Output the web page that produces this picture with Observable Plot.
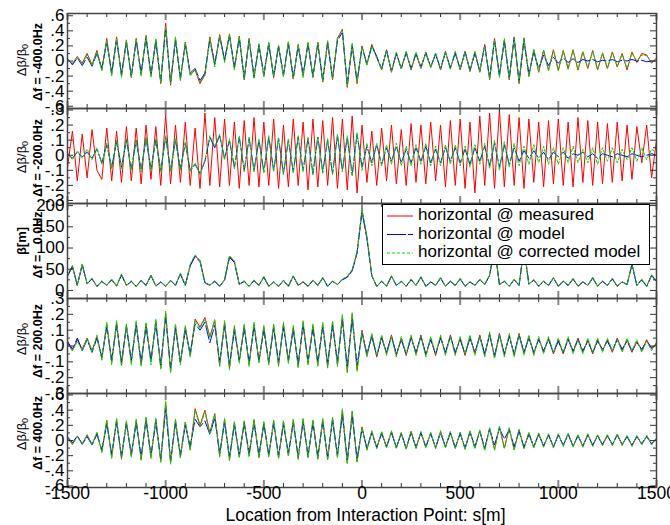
<!DOCTYPE html>
<html>
<head>
<meta charset="utf-8">
<script src="https://cdn.jsdelivr.net/npm/d3@7"></script>
<script src="https://cdn.jsdelivr.net/npm/@observablehq/plot@0.6"></script>
<style>
  body { margin: 0; background: #fff; font-family: "Liberation Sans", Arial, sans-serif; }
  #chart { position: relative; width: 670px; height: 525px; overflow: hidden; }
  #chart > svg { display: block; overflow: visible; }
  #legend { position: absolute; left: 382px; top: 204px; }
</style>
</head>
<body>
<div id="chart"></div>
<script>
// ---------- sample positions (m from IP) ----------
const positions = [
-1500,-1475,-1450,-1425,-1400,-1375,-1350,-1325,-1300,-1275,
-1250,-1225,-1200,-1175,-1150,-1125,-1100,-1075,-1050,-1025,
-1000,-975,-950,-925,-900,-875,-850,-825,-800,-775,
-750,-725,-700,-675,-650,-625,-600,-575,-550,-525,
-500,-475,-450,-425,-400,-375,-350,-325,-300,-275,
-250,-225,-200,-175,-150,-125,-100,-75,-50,-25,
0,25,50,75,100,125,150,175,200,225,
250,275,300,325,350,375,400,425,450,475,
500,525,550,575,600,625,650,675,700,725,
750,775,800,825,850,875,900,925,950,975,
1000,1025,1050,1075,1100,1125,1150,1175,1200,1225,
1250,1275,1300,1325,1350,1375,1400,1425,1450,1475,
1500];

const seriesNames = ["horizontal @ measured", "horizontal @ model", "horizontal @ corrected model"];
const panelLabels = ["Δf = -400.0Hz", "Δf = -200.0Hz", "Δf =   0.0Hz", "Δf = 200.0Hz", "Δf = 400.0Hz"];
const xTickValues = [-1500,-1000,-500,0,500,1000,1500];
const xTickLabels = ["-1500","-1000","-500","0","500","1000","1500"];
const xMinorTicks = [-1400,-1300,-1200,-1100,-900,-800,-700,-600,-400,-300,-200,-100,100,200,300,400,600,700,800,900,1100,1200,1300,1400];
const yTicksWide = [-0.6,-0.4,-0.2,0,0.2,0.4,0.6];
const yMinorWide = [-0.5,-0.3,-0.1,0.1,0.3,0.5];
const yTicksNarrow = [-0.3,-0.2,-0.1,0,0.1,0.2,0.3];
const yMinorNarrow = [-0.25,-0.15,-0.05,0.05,0.15,0.25];
const yTicksBeta = [0,50,100,150,200];
const yMinorBeta = [25,75,125,175];

// ---------- panel 1 : Δf = -400 Hz ----------
const p1Measured = [
0.02,-0.04,0.06,-0.03,0.1,-0.05,0.14,-0.12,0.3,-0.18,
0.32,-0.2,0.28,-0.22,0.3,-0.18,0.34,-0.2,0.28,-0.3,
0.5,-0.32,0.3,-0.25,0.25,-0.18,-0.12,-0.3,-0.18,0.32,
-0.05,0.35,0.0,0.36,-0.1,0.33,-0.25,0.3,-0.22,0.22,
-0.2,0.24,-0.22,0.2,-0.2,0.25,-0.24,0.22,-0.2,0.24,
-0.22,0.25,-0.28,0.26,-0.25,0.3,0.42,-0.35,0.22,-0.3,
0.2,-0.05,0.22,0.05,-0.12,0.15,-0.15,0.1,-0.1,0.12,
-0.12,0.1,-0.1,0.12,-0.08,0.1,-0.12,0.13,-0.1,0.12,
-0.12,0.13,-0.14,0.12,-0.15,0.22,-0.25,0.3,-0.2,0.28,
-0.25,0.32,-0.3,0.3,-0.2,0.15,-0.15,0.14,-0.12,0.15,
-0.12,0.14,-0.1,0.15,-0.12,0.12,-0.1,0.14,-0.12,0.1,
-0.1,0.12,-0.08,0.1,-0.12,0.12,-0.02,0.1,0.08,-0.03,
0.04];
const p1Model = [
0.03,-0.05,0.04,-0.06,0.05,-0.07,0.1,-0.1,0.25,-0.16,
0.28,-0.18,0.25,-0.2,0.27,-0.16,0.3,-0.18,0.26,-0.27,
0.42,-0.28,0.28,-0.22,0.22,-0.16,-0.1,-0.26,-0.16,0.28,
-0.04,0.32,0.02,0.33,-0.08,0.3,-0.22,0.27,-0.2,0.2,
-0.18,0.22,-0.2,0.19,-0.18,0.23,-0.22,0.2,-0.18,0.22,
-0.2,0.22,-0.25,0.24,-0.22,0.27,0.38,-0.3,0.2,-0.26,
0.18,-0.04,0.2,0.06,-0.1,0.14,-0.13,0.1,-0.1,0.11,
-0.1,0.1,-0.08,0.1,-0.08,0.09,-0.1,0.11,-0.09,0.1,
-0.1,0.12,-0.12,0.1,-0.13,0.2,-0.22,0.27,-0.18,0.26,
-0.22,0.3,-0.27,0.27,-0.17,0.12,-0.1,0.08,-0.06,0.05,
-0.03,0.04,-0.02,0.03,-0.02,0.02,0.0,0.02,-0.01,0.01,
0.0,0.02,-0.01,0.01,0.0,0.02,0.0,0.01,-0.01,0.0,
0.0];
const p1Corrected = [
0.01,-0.03,0.05,-0.04,0.08,-0.06,0.12,-0.13,0.28,-0.2,
0.3,-0.22,0.27,-0.21,0.29,-0.2,0.33,-0.22,0.3,-0.28,
0.46,-0.3,0.32,-0.26,0.24,-0.2,-0.1,-0.28,-0.2,0.3,
-0.08,0.34,-0.02,0.35,-0.12,0.32,-0.24,0.29,-0.23,0.23,
-0.21,0.25,-0.2,0.21,-0.21,0.26,-0.23,0.21,-0.22,0.25,
-0.21,0.24,-0.27,0.27,-0.24,0.31,0.4,-0.33,0.24,-0.28,
0.19,-0.06,0.2,0.04,-0.11,0.14,-0.14,0.12,-0.11,0.13,
-0.11,0.12,-0.09,0.11,-0.09,0.11,-0.11,0.12,-0.11,0.13,
-0.11,0.12,-0.13,0.13,-0.14,0.2,-0.24,0.28,-0.22,0.3,
-0.24,0.3,-0.28,0.31,-0.21,0.16,-0.14,0.15,-0.13,0.14,
-0.13,0.13,-0.11,0.14,-0.11,0.13,-0.09,0.13,-0.11,0.11,
-0.09,0.11,-0.07,0.09,-0.1,0.1,0.0,0.08,0.07,-0.02,
0.03];

// ---------- panel 2 : Δf = -200 Hz ----------
const p2Measured = [
-0.08,0.16,-0.17,0.14,-0.15,0.17,-0.1,-0.16,0.18,-0.17,
0.16,-0.18,0.19,-0.17,0.18,-0.19,0.2,-0.16,0.19,-0.2,
0.27,-0.19,0.2,-0.18,0.22,-0.2,0.18,-0.22,0.28,-0.2,
0.25,-0.21,0.24,-0.2,0.22,-0.22,0.23,-0.2,0.25,-0.21,
0.22,-0.2,0.24,-0.22,0.2,-0.21,0.24,-0.2,0.22,-0.23,
0.24,-0.21,0.23,-0.2,0.25,-0.22,0.24,-0.23,0.26,-0.25,
0.2,-0.18,0.16,-0.2,0.18,-0.17,0.2,-0.19,0.17,-0.2,
0.21,-0.18,0.2,-0.19,0.22,-0.17,0.2,-0.21,0.23,-0.2,
0.24,-0.22,0.22,-0.25,0.26,-0.2,0.28,-0.22,0.3,-0.21,
0.27,-0.2,0.25,-0.22,0.24,-0.18,0.22,-0.21,0.23,-0.19,
0.24,-0.2,0.22,-0.21,0.25,-0.18,0.23,-0.2,0.22,-0.19,
0.21,-0.18,0.22,-0.17,0.2,-0.16,0.19,-0.05,0.2,-0.15,
0.1];
const p2Model = [
0.01,-0.02,0.02,-0.01,0.02,-0.02,0.04,-0.05,0.07,-0.08,
0.09,-0.08,0.1,-0.09,0.1,-0.1,0.11,-0.09,0.1,-0.1,
0.12,-0.1,0.1,-0.09,0.08,-0.1,-0.06,-0.12,-0.04,0.12,
0.05,0.13,-0.02,0.1,-0.08,0.12,-0.1,0.11,-0.1,0.1,
-0.11,0.12,-0.1,0.11,-0.12,0.1,-0.11,0.12,-0.1,0.11,
-0.12,0.12,-0.11,0.1,-0.12,0.13,-0.1,0.12,-0.13,0.14,
-0.08,0.06,-0.05,0.07,-0.06,0.05,-0.04,0.06,-0.05,0.04,
-0.05,0.05,-0.04,0.06,-0.05,0.04,-0.05,0.05,-0.04,0.05,
-0.05,0.04,-0.06,0.05,-0.04,0.06,-0.07,0.08,-0.08,0.07,
-0.06,0.05,-0.04,0.03,-0.02,0.03,-0.02,0.02,-0.03,0.02,
-0.01,0.02,-0.02,0.01,0.0,0.02,-0.01,0.01,-0.02,0.01,
0.0,-0.01,0.01,0.0,-0.01,0.01,0.0,-0.01,0.0,0.01,
0.0];
const p2Corrected = [
0.02,-0.03,0.03,-0.02,0.04,-0.03,0.05,-0.06,0.08,-0.09,
0.1,-0.09,0.11,-0.1,0.1,-0.11,0.12,-0.1,0.11,-0.11,
0.13,-0.11,0.11,-0.1,0.09,-0.11,-0.05,-0.13,-0.03,0.13,
0.06,0.14,-0.03,0.11,-0.09,0.13,-0.11,0.12,-0.11,0.11,
-0.12,0.13,-0.11,0.12,-0.13,0.11,-0.12,0.13,-0.11,0.12,
-0.13,0.12,-0.12,0.11,-0.13,0.14,-0.11,0.13,-0.14,0.15,
-0.1,0.08,-0.07,0.08,-0.07,0.07,-0.06,0.08,-0.07,0.06,
-0.07,0.07,-0.06,0.08,-0.07,0.06,-0.07,0.07,-0.06,0.07,
-0.07,0.06,-0.08,0.07,-0.06,0.08,-0.09,0.1,-0.1,0.09,
-0.08,0.08,-0.07,0.06,-0.06,0.07,-0.05,0.06,-0.06,0.05,
-0.06,0.05,-0.05,0.06,-0.05,0.04,-0.05,0.05,-0.06,0.05,
-0.04,0.05,-0.05,0.04,-0.03,0.05,-0.04,0.05,-0.03,0.04,
0.02];

// ---------- panel 3 : Δf = 0 Hz, β [m] ----------
const p3Measured = [
35,58,12,62,15,28,9,22,12,26,
10,38,12,22,9,24,12,36,10,20,
9,24,12,40,12,60,82,70,18,12,
22,10,25,80,68,14,22,10,24,12,
32,10,20,9,24,10,34,12,20,10,
24,12,30,10,22,14,26,32,48,90,
190,125,35,9,22,10,34,12,22,10,
26,12,32,10,20,12,30,10,22,12,
28,10,20,12,26,14,36,105,14,22,
10,26,12,102,15,25,10,22,12,30,
10,22,12,28,10,20,12,30,10,22,
12,28,10,20,14,62,12,26,10,36,
22];
const p3Model = [
33,56,12,60,16,27,10,21,12,25,
11,36,12,21,10,23,12,35,11,20,
10,23,12,38,12,58,80,68,18,13,
21,10,24,78,66,15,21,10,23,12,
31,10,20,10,23,10,33,12,20,10,
23,12,29,10,21,14,25,31,46,88,
186,122,34,10,21,10,33,12,21,10,
25,12,31,10,20,12,29,10,21,12,
27,10,20,12,25,14,35,102,14,21,
10,25,12,100,15,24,10,21,12,29,
10,21,12,27,10,20,12,29,10,21,
12,27,10,20,14,60,12,25,10,35,
21];
const p3Corrected = [
36,59,11,63,15,29,9,23,11,27,
10,39,11,23,9,25,11,37,10,21,
9,25,11,41,12,62,84,71,17,12,
23,9,26,82,70,14,23,9,25,11,
33,9,21,9,25,9,35,11,21,9,
25,11,31,9,23,13,27,33,49,92,
192,128,36,9,23,9,35,11,23,9,
27,11,33,9,21,11,31,9,23,11,
29,9,21,11,27,13,37,107,13,23,
9,27,11,104,14,26,9,23,11,31,
9,23,11,29,9,21,11,31,9,23,
11,29,9,21,13,64,11,27,9,37,
23];

// ---------- panel 4 : Δf = 200 Hz ----------
const p4Measured = [
0.02,-0.03,0.04,-0.02,0.05,-0.03,0.06,-0.08,0.14,-0.1,
0.15,-0.12,0.13,-0.1,0.15,-0.12,0.14,-0.1,0.16,-0.14,
0.21,-0.16,0.13,-0.11,0.12,-0.06,0.17,0.12,0.18,0.06,
0.16,-0.12,0.15,-0.14,0.12,-0.1,0.13,-0.12,0.14,-0.1,
0.12,-0.11,0.13,-0.12,0.14,-0.1,0.12,-0.13,0.15,-0.11,
0.13,-0.12,0.14,-0.13,0.15,-0.12,0.19,-0.16,0.2,-0.15,
0.1,-0.06,0.07,-0.07,0.06,-0.05,0.07,-0.06,0.05,-0.06,
0.06,-0.05,0.07,-0.06,0.05,-0.06,0.06,-0.05,0.07,-0.05,
0.05,-0.06,0.06,-0.05,0.07,-0.06,0.08,-0.07,0.08,-0.06,
0.07,-0.06,0.08,-0.05,0.06,-0.05,0.05,-0.04,0.05,-0.05,
0.04,-0.05,0.05,-0.04,0.05,-0.04,0.04,-0.05,0.04,-0.03,
0.04,-0.04,0.05,-0.03,0.04,-0.04,0.03,-0.03,0.04,-0.02,
0.02];
const p4Model = [
0.03,-0.02,0.05,-0.03,0.04,-0.04,0.05,-0.07,0.12,-0.09,
0.13,-0.1,0.12,-0.09,0.13,-0.1,0.12,-0.09,0.14,-0.12,
0.18,-0.14,0.11,-0.1,0.1,-0.05,0.14,0.1,0.15,0.02,
0.13,-0.1,0.13,-0.12,0.1,-0.09,0.11,-0.1,0.12,-0.09,
0.1,-0.1,0.11,-0.1,0.12,-0.09,0.1,-0.11,0.13,-0.1,
0.11,-0.1,0.12,-0.11,0.13,-0.1,0.16,-0.13,0.17,-0.12,
0.08,-0.05,0.06,-0.06,0.05,-0.04,0.06,-0.05,0.04,-0.05,
0.05,-0.04,0.06,-0.05,0.04,-0.05,0.05,-0.04,0.06,-0.04,
0.04,-0.05,0.05,-0.04,0.06,-0.05,0.07,-0.06,0.07,-0.05,
0.06,-0.05,0.07,-0.04,0.05,-0.04,0.04,-0.03,0.04,-0.04,
0.03,-0.04,0.04,-0.03,0.04,-0.03,0.03,-0.04,0.03,-0.02,
0.03,-0.03,0.04,-0.02,0.03,-0.03,0.02,-0.02,0.03,-0.01,
0.01];
const p4Corrected = [
0.01,-0.03,0.03,-0.03,0.05,-0.04,0.07,-0.09,0.15,-0.12,
0.16,-0.13,0.14,-0.12,0.16,-0.13,0.15,-0.12,0.17,-0.15,
0.22,-0.17,0.14,-0.12,0.13,-0.07,0.16,0.11,0.17,0.05,
0.17,-0.13,0.16,-0.15,0.13,-0.11,0.14,-0.13,0.15,-0.11,
0.13,-0.12,0.14,-0.13,0.15,-0.11,0.13,-0.14,0.16,-0.12,
0.14,-0.13,0.15,-0.14,0.16,-0.13,0.2,-0.17,0.21,-0.16,
0.09,-0.07,0.08,-0.06,0.07,-0.06,0.06,-0.07,0.06,-0.05,
0.07,-0.06,0.06,-0.07,0.06,-0.05,0.07,-0.06,0.06,-0.06,
0.06,-0.05,0.07,-0.06,0.06,-0.07,0.09,-0.08,0.07,-0.07,
0.08,-0.07,0.07,-0.06,0.07,-0.06,0.06,-0.05,0.06,-0.04,
0.05,-0.04,0.06,-0.05,0.04,-0.05,0.05,-0.04,0.05,-0.04,
0.05,-0.03,0.04,-0.04,0.05,-0.03,0.04,-0.04,0.03,-0.03,
0.02];

// ---------- panel 5 : Δf = 400 Hz ----------
const p5Measured = [
0.03,-0.05,0.06,-0.04,0.07,-0.05,0.1,-0.15,0.26,-0.22,
0.28,-0.24,0.25,-0.2,0.27,-0.25,0.3,-0.22,0.28,-0.28,
0.5,-0.3,0.27,-0.22,0.24,-0.12,0.42,0.2,0.4,0.1,
0.35,-0.2,0.28,-0.25,0.24,-0.22,0.25,-0.2,0.27,-0.22,
0.24,-0.21,0.26,-0.23,0.25,-0.2,0.27,-0.24,0.28,-0.22,
0.26,-0.24,0.28,-0.25,0.3,-0.22,0.4,-0.3,0.38,-0.28,
0.18,-0.12,0.12,-0.1,0.11,-0.09,0.12,-0.1,0.1,-0.11,
0.12,-0.1,0.11,-0.09,0.1,-0.1,0.12,-0.09,0.11,-0.1,
0.1,-0.11,0.12,-0.1,0.13,-0.12,0.16,-0.12,0.18,-0.1,
0.16,-0.12,0.14,-0.1,0.1,-0.09,0.09,-0.08,0.08,-0.09,
0.08,-0.07,0.09,-0.08,0.07,-0.08,0.08,-0.07,0.07,-0.06,
0.07,-0.06,0.08,-0.06,0.06,-0.07,0.06,-0.05,0.06,-0.05,
0.03];
const p5Model = [
0.05,-0.03,0.06,-0.05,0.05,-0.06,0.08,-0.12,0.22,-0.18,
0.24,-0.2,0.22,-0.18,0.23,-0.21,0.26,-0.19,0.24,-0.24,
0.42,-0.26,0.23,-0.19,0.2,-0.08,0.28,0.18,0.26,0.08,
0.3,-0.17,0.24,-0.22,0.21,-0.19,0.22,-0.17,0.23,-0.19,
0.21,-0.18,0.22,-0.2,0.21,-0.17,0.23,-0.21,0.24,-0.19,
0.22,-0.21,0.24,-0.22,0.26,-0.19,0.34,-0.26,0.32,-0.24,
0.15,-0.1,0.1,-0.09,0.09,-0.08,0.1,-0.09,0.09,-0.1,
0.1,-0.09,0.1,-0.08,0.09,-0.09,0.1,-0.08,0.1,-0.09,
0.09,-0.1,0.11,-0.08,0.12,-0.1,0.15,-0.06,0.16,0.02,
0.14,-0.08,0.12,-0.09,0.08,-0.08,0.08,-0.07,0.07,-0.08,
0.07,-0.06,0.08,-0.07,0.06,-0.07,0.07,-0.06,0.06,-0.05,
0.06,-0.05,0.07,-0.05,0.05,-0.06,0.05,-0.04,0.05,-0.04,
0.02];
const p5Corrected = [
0.02,-0.05,0.05,-0.05,0.08,-0.06,0.11,-0.16,0.27,-0.24,
0.29,-0.25,0.26,-0.22,0.28,-0.26,0.31,-0.24,0.3,-0.29,
0.52,-0.31,0.28,-0.23,0.25,-0.13,0.4,0.18,0.38,0.08,
0.36,-0.22,0.29,-0.27,0.25,-0.23,0.26,-0.22,0.28,-0.23,
0.25,-0.22,0.27,-0.24,0.26,-0.21,0.28,-0.25,0.29,-0.23,
0.27,-0.25,0.29,-0.26,0.31,-0.23,0.42,-0.31,0.39,-0.29,
0.17,-0.13,0.13,-0.11,0.12,-0.1,0.13,-0.11,0.11,-0.12,
0.13,-0.11,0.12,-0.1,0.11,-0.11,0.13,-0.1,0.12,-0.11,
0.11,-0.12,0.13,-0.11,0.14,-0.13,0.17,-0.13,0.19,-0.11,
0.17,-0.13,0.15,-0.11,0.11,-0.1,0.1,-0.09,0.09,-0.1,
0.09,-0.08,0.1,-0.09,0.08,-0.09,0.09,-0.08,0.08,-0.07,
0.08,-0.07,0.09,-0.07,0.07,-0.08,0.07,-0.06,0.07,-0.06,
0.04];

// ---------- drawing ----------
const W = 670, ML = 67, MR = 14;
const FONT = "Liberation Sans, Arial, sans-serif";
const RED = "#ff0000", BLUE = "#0000ff", GREEN = "#00dd00";
const DASH_MODEL = "14,3", DASH_CORR = "3,2";
const fmtDec = d => d === 0 ? "0" : String(d).replace("0.", ".");
const fmtInt = d => String(d);

function drawPanel(cfg) {
  const innerH = cfg.height - cfg.top - cfg.bottom;
  const innerW = W - ML - MR;
  const rows = vals => positions.map((s, i) => ({s, v: vals[i]}));
  const marks = [
    Plot.line(rows(cfg.measured), {x: "s", y: "v", stroke: RED, strokeWidth: 1}),
    Plot.line(rows(cfg.model), {x: "s", y: "v", stroke: BLUE, strokeWidth: 1, strokeDasharray: DASH_MODEL}),
    Plot.line(rows(cfg.corrected), {x: "s", y: "v", stroke: GREEN, strokeWidth: 1, strokeDasharray: DASH_CORR}),
    Plot.ruleX(xTickValues, {insetBottom: innerH - 7, stroke: "#888", strokeWidth: 2}),
    Plot.ruleX(xTickValues, {insetTop: innerH - 7, stroke: "#888", strokeWidth: 2}),
    Plot.ruleX(xMinorTicks, {insetBottom: innerH - 4, stroke: "#333", strokeWidth: 1}),
    Plot.ruleX(xMinorTicks, {insetTop: innerH - 4, stroke: "#333", strokeWidth: 1}),
    Plot.ruleY(cfg.ticks, {insetRight: innerW - 6, stroke: "#333", strokeWidth: 1}),
    Plot.ruleY(cfg.ticks, {insetLeft: innerW - 6, stroke: "#333", strokeWidth: 1}),
    Plot.ruleY(cfg.minor, {insetRight: innerW - 3, stroke: "#333", strokeWidth: 1}),
    Plot.ruleY(cfg.minor, {insetLeft: innerW - 3, stroke: "#333", strokeWidth: 1}),
    Plot.text(cfg.ticks, {y: d => d, text: cfg.fmt, frameAnchor: "left", textAnchor: "end", dx: -3, fontSize: 17, fill: "#000"}),
    Plot.frame({stroke: "#444", strokeWidth: 1.5})
  ];
  if (cfg.xAxis) {
    marks.push(Plot.text(xTickValues, {x: d => d, text: (d, i) => xTickLabels[i], frameAnchor: "bottom", dy: 11, fontSize: 17.5, fill: "#000"}));
  }
  const svgEl = Plot.plot({
    width: W, height: cfg.height,
    marginLeft: ML, marginRight: MR, marginTop: cfg.top, marginBottom: cfg.bottom,
    style: {background: "transparent", overflow: "visible", fontFamily: FONT, color: "#000"},
    x: {domain: [-1500, 1500], axis: null},
    y: {domain: cfg.domain, axis: null},
    marks
  });
  const svg = d3.select(svgEl);
  const q = svg.append("text")
    .attr("transform", `translate(23,${cfg.top + cfg.qy}) rotate(-90)`)
    .attr("text-anchor", "middle").attr("dominant-baseline", "middle")
    .attr("font-family", FONT).attr("font-size", 13).attr("fill", "#000");
  if (cfg.beta) {
    q.append("tspan").attr("font-weight", "bold").text("β[m]");
  } else {
    q.append("tspan").text("Δβ/β");
    q.append("tspan").attr("font-size", 9).attr("dy", 3).text("0");
  }
  svg.append("text")
    .attr("transform", `translate(39,${cfg.top + cfg.fy}) rotate(-90)`)
    .attr("text-anchor", "middle").attr("dominant-baseline", "middle")
    .attr("font-family", FONT).attr("font-size", 12.5).attr("font-weight", "bold")
    .attr("fill", "#000").style("white-space", "pre")
    .text(cfg.label);
  if (cfg.xAxis) {
    svg.append("text")
      .attr("x", ML + (W - ML - MR) / 2 + 4).attr("y", cfg.height - 9)
      .attr("text-anchor", "middle").attr("dominant-baseline", "middle")
      .attr("font-family", FONT).attr("font-size", 17.5).attr("fill", "#000")
      .text("Location from Interaction Point: s[m]");
  }
  return svgEl;
}

const chart = document.getElementById("chart");
const cfgs = [
  {measured: p1Measured, model: p1Model, corrected: p1Corrected, domain: [-0.63, 0.63], ticks: yTicksWide, minor: yMinorWide, fmt: fmtDec, height: 108, top: 13, bottom: 0, label: panelLabels[0], qy: 47, fy: 49},
  {measured: p2Measured, model: p2Model, corrected: p2Corrected, domain: [-0.32, 0.31], ticks: yTicksNarrow, minor: yMinorNarrow, fmt: fmtDec, height: 95, top: 0, bottom: 0, label: panelLabels[1], qy: 49, fy: 50},
  {measured: p3Measured, model: p3Model, corrected: p3Corrected, domain: [-19, 205], ticks: yTicksBeta, minor: yMinorBeta, fmt: fmtInt, height: 95, top: 0, bottom: 0, label: panelLabels[2], qy: 38, fy: 42, beta: true},
  {measured: p4Measured, model: p4Model, corrected: p4Corrected, domain: [-0.3, 0.3], ticks: yTicksNarrow, minor: yMinorNarrow, fmt: fmtDec, height: 95, top: 0, bottom: 0, label: panelLabels[3], qy: 41, fy: 43},
  {measured: p5Measured, model: p5Model, corrected: p5Corrected, domain: [-0.62, 0.62], ticks: yTicksWide, minor: yMinorWide, fmt: fmtDec, height: 132, top: 0, bottom: 38, label: panelLabels[4], qy: 41, fy: 40, xAxis: true}
];
for (const c of cfgs) chart.appendChild(drawPanel(c));

// ---------- legend ----------
const legend = d3.select(chart).append("svg").attr("id", "legend")
  .attr("width", 268).attr("height", 61);
legend.append("rect").attr("x", 0.5).attr("y", 0.5).attr("width", 267).attr("height", 60)
  .attr("fill", "#fff").attr("stroke", "#000").attr("stroke-width", 1);
const legendStyles = [
  {stroke: RED, dash: null},
  {stroke: BLUE, dash: "19,2"},
  {stroke: GREEN, dash: DASH_CORR}
];
seriesNames.forEach((name, i) => {
  const y = 12 + i * 18.5;
  legend.append("line").attr("x1", 5).attr("x2", 31).attr("y1", y).attr("y2", y)
    .attr("stroke", legendStyles[i].stroke).attr("stroke-width", 1)
    .attr("stroke-dasharray", legendStyles[i].dash);
  legend.append("text").attr("x", 36).attr("y", y).attr("dominant-baseline", "middle")
    .attr("font-family", FONT).attr("font-size", 17).attr("fill", "#000")
    .text(name);
});
</script>
</body>
</html>
